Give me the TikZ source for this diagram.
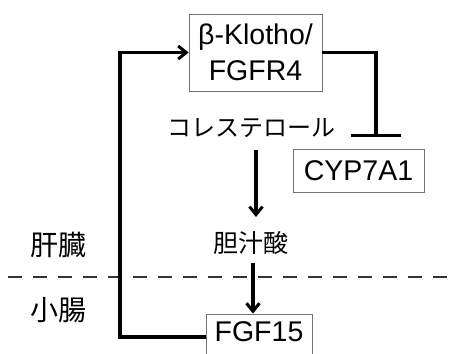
\documentclass[tikz,border=0pt]{standalone}
\usepackage{fontspec}
\setmainfont{Liberation Sans}
\newfontfamily\cjk{Noto Sans CJK JP}
\usetikzlibrary{arrows.meta}
\begin{document}
\begin{tikzpicture}[x=1pt,y=-1pt,
  box/.style={draw=black!55,line width=0.8pt,fill=white,inner sep=0pt,align=center,
     font=\fontsize{28.5}{36}\selectfont},
  jp/.style={inner sep=0pt,font=\cjk\fontsize{24}{28}\selectfont},
  jpl/.style={inner sep=0pt,font=\cjk\fontsize{28}{30}\selectfont},
  conn/.style={line width=3.2pt,line join=miter},
  arr/.style={conn,-{Straight Barb[length=8pt,width=13pt,line width=3pt]}},
  tee/.style={conn,-{Bar[width=50pt,line width=3.2pt]}},
  sep/.style={line width=1.7pt,black!80,dash pattern=on 14pt off 11pt}]
\clip (0,0) rectangle (449,353);
\fill[white] (0,0) rectangle (449,353);
\node[box,minimum width=133pt,minimum height=77pt] (bk) at (255.5,52.5) {β-Klotho/\\FGFR4};
\node[jp] (chol) at (251.5,128) {コレステロール};
\node[box,minimum width=131pt,minimum height=43pt] (cyp) at (358.5,170.5) {CYP7A1};
\node[jp,font=\cjk\fontsize{25}{28}\selectfont] (bile) at (251,243) {胆汁酸};
\node[box,minimum width=106pt,minimum height=42pt,text depth=7pt] (fgf) at (259,335) {FGF15};
\node[jpl] (liver) at (58,245) {肝臓};
\node[jpl] (intes) at (58,310) {小腸};
\coordinate (dl) at (8,277);
\coordinate (dr) at (447,277);
\draw[sep] (dl) -- (dr);
\coordinate (c1) at (256,150);
\coordinate (c2) at (256,217);
\draw[arr] (c1) -- (c2);
\coordinate (b1) at (253,263);
\draw[arr] (b1) -- (b1 |- fgf.north);
\coordinate (lx) at (120,0);
\draw[arr] ([yshift=-2pt]fgf.west) -| (lx |- bk.west) -- (bk.west);
\coordinate (tc) at (376,137);
\draw[tee] (bk.east) -| (tc);
\end{tikzpicture}
\end{document}
